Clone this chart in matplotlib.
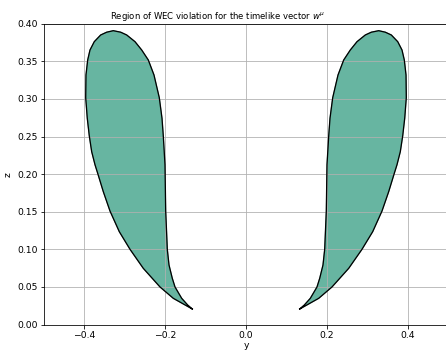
import matplotlib
matplotlib.use("Agg")
import matplotlib.pyplot as plt

# Left lobe boundary (closed loop): tip -> outer edge up -> top -> inner edge down -> tip
left_y_coord = [-0.1326, -0.1795, -0.2123, -0.2536, -0.2864, -0.3128, -0.3358, -0.3523,
                -0.3662, -0.3728, -0.3810, -0.3869, -0.3919, -0.3958, -0.3951, -0.3909,
                -0.3852, -0.3746, -0.3588, -0.3440, -0.3277, -0.3094, -0.2946, -0.2741,
                -0.2575, -0.2412, -0.2272, -0.2141, -0.2074, -0.2042, -0.2000, -0.1983,
                -0.1943, -0.1901, -0.1820, -0.1753, -0.1588, -0.1440, -0.1326]
left_z_coord = [0.0206, 0.0348, 0.0499, 0.0747, 0.1000, 0.1234, 0.1509, 0.1766,
                0.2011, 0.2124, 0.2298, 0.2507, 0.2742, 0.3016, 0.3318, 0.3517,
                0.3650, 0.3761, 0.3850, 0.3887, 0.3907, 0.3887, 0.3850, 0.3761,
                0.3650, 0.3517, 0.3318, 0.3016, 0.2742, 0.2507, 0.2124, 0.1509,
                0.1000, 0.0791, 0.0614, 0.0499, 0.0348, 0.0259, 0.0206]

# Right lobe boundary (mirror image of the left lobe)
right_y_coord = [0.1326, 0.1795, 0.2123, 0.2536, 0.2864, 0.3128, 0.3358, 0.3523,
                 0.3662, 0.3728, 0.3810, 0.3869, 0.3919, 0.3958, 0.3951, 0.3909,
                 0.3852, 0.3746, 0.3588, 0.3440, 0.3277, 0.3094, 0.2946, 0.2741,
                 0.2575, 0.2412, 0.2272, 0.2141, 0.2074, 0.2042, 0.2000, 0.1983,
                 0.1943, 0.1901, 0.1820, 0.1753, 0.1588, 0.1440, 0.1326]
right_z_coord = [0.0206, 0.0348, 0.0499, 0.0747, 0.1000, 0.1234, 0.1509, 0.1766,
                 0.2011, 0.2124, 0.2298, 0.2507, 0.2742, 0.3016, 0.3318, 0.3517,
                 0.3650, 0.3761, 0.3850, 0.3887, 0.3907, 0.3887, 0.3850, 0.3761,
                 0.3650, 0.3517, 0.3318, 0.3016, 0.2742, 0.2507, 0.2124, 0.1509,
                 0.1000, 0.0791, 0.0614, 0.0499, 0.0348, 0.0259, 0.0206]

x_ticks = [-0.4, -0.2, 0.0, 0.2, 0.4]
y_ticks = [0.00, 0.05, 0.10, 0.15, 0.20, 0.25, 0.30, 0.35, 0.40]
title_text = r"Region of WEC violation for the timelike vector $w^{\mu}$"

fig = plt.figure(figsize=(446 / 72, 352 / 72), dpi=72)
ax = fig.add_axes([43.5 / 446, 27.5 / 352, 405 / 446, 300.8 / 352])

fill_color = "#67b5a1"
for ys, zs in [(left_y_coord, left_z_coord), (right_y_coord, right_z_coord)]:
    ax.fill(ys, zs, color=fill_color, zorder=1)
    ax.plot(ys, zs, color="black", lw=1.3, zorder=2, solid_joinstyle="round")

ax.set_xlim(-0.5, 0.5)
ax.set_ylim(0.0, 0.4)
ax.set_xticks(x_ticks)
ax.set_yticks(y_ticks)
ax.set_yticklabels([f"{v:.2f}" for v in y_ticks])
ax.set_xticklabels([f"{v:.1f}".replace("-", "\u2212") for v in x_ticks])
ax.grid(True, color="#b0b0b0", lw=0.8)
ax.set_axisbelow("line")
ax.tick_params(labelsize=9.3, pad=2.5)
ax.set_xlabel("y", fontsize=9.3, labelpad=1)
ax.set_ylabel("z", fontsize=9.3, labelpad=4)
title = ax.set_title(title_text, fontsize=9, x=0.4296, pad=5)

# fit title width to the reference (about 214 px wide)
fig.canvas.draw()
w = title.get_window_extent().width
title.set_fontsize(9 * 214.0 / w)

fig.savefig("out.png", dpi=72)
